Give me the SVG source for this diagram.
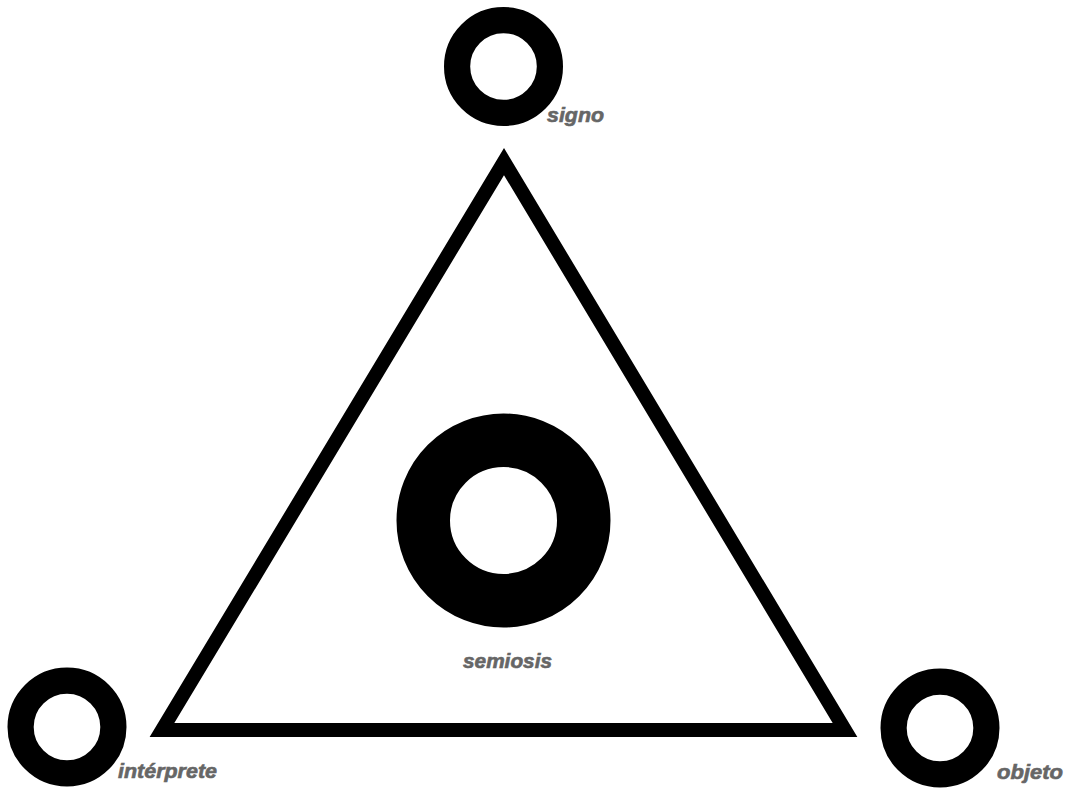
<svg xmlns="http://www.w3.org/2000/svg" width="1070" height="790" viewBox="0 0 1070 790">
  <style>
    .ring { fill: none; stroke: #000; }
    .small { stroke-width: 26.2; }
    .lbl { font-family: "Liberation Sans", Arial, sans-serif; font-weight: bold; font-style: italic; font-size: 20px; fill: #666666; stroke: #666666; stroke-width: 0.6; }
  </style>
  <rect width="1070" height="790" fill="#ffffff"/>
  <g id="connectors">
    <polygon points="504,161.6 845,730 162,730" fill="none" stroke="#000" stroke-width="14" stroke-linejoin="miter" stroke-miterlimit="10"/>
  </g>
  <g id="signo">
    <circle class="ring small" cx="503.5" cy="66.5" r="46.4"/>
    <text class="lbl" x="547" y="122" textLength="57" lengthAdjust="spacingAndGlyphs">signo</text>
  </g>
  <g id="semiosis">
    <circle class="ring" cx="503.5" cy="520.5" r="80.25" stroke-width="53.5"/>
    <text class="lbl" x="463" y="668" textLength="89" lengthAdjust="spacingAndGlyphs">semiosis</text>
  </g>
  <g id="interprete">
    <circle class="ring small" cx="67" cy="727" r="46.4"/>
    <text class="lbl" x="118" y="778" textLength="99" lengthAdjust="spacingAndGlyphs">intérprete</text>
  </g>
  <g id="objeto">
    <circle class="ring small" cx="940" cy="728" r="46.4"/>
    <text class="lbl" x="997" y="779" textLength="66" lengthAdjust="spacingAndGlyphs">objeto</text>
  </g>
</svg>
